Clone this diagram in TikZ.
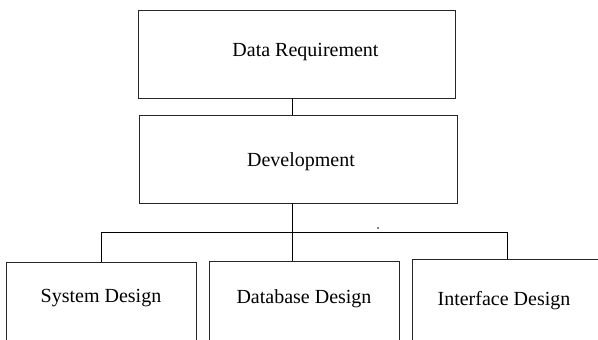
\documentclass[tikz,border=0pt]{standalone}
\usepackage{fontspec}
\setmainfont{Liberation Serif}
\usetikzlibrary{positioning}

\begin{document}
\begin{tikzpicture}[
    x=1pt, y=-1pt,
    box/.style={draw=black!85, line width=0.9pt, fill=white, inner sep=0pt},
    tag/.style={font=\fontsize{20}{24}\selectfont, inner sep=0pt, anchor=center},
    wire/.style={draw=black, line width=0.9pt}
]
\useasboundingbox (0,0) rectangle (598,340);
\clip (0,0) rectangle (598,340);

% ==================== TOP CHAIN ====================
\node[box, minimum width=317pt, minimum height=88pt,
      label={[tag, xshift=9pt, yshift=2pt]center:Data Requirement}] (dreq) at (296.5,54) {};
\node[box, minimum width=318pt, minimum height=88pt,
      label={[tag, xshift=3pt, yshift=-3pt]center:Development}] (dev) at (298,159) {};

% ==================== DESIGN BOXES ====================
\node[box, minimum width=190pt, minimum height=120pt,
      label={[tag, yshift=-36pt]north:System Design}] (sys) at (101,322) {};
\node[box, minimum width=190pt, minimum height=120pt,
      label={[tag, yshift=-38pt]north:Database Design}] (dbase) at (304,321) {};
\node[box, minimum width=190pt, minimum height=120pt,
      label={[tag, xshift=-3pt, yshift=-42pt]north:Interface Design}] (intf) at (507,319) {};

% connectors
\coordinate (split) at (292,232);
\draw[wire] (dreq.south -| split) -- (dev.north -| split);
\draw[wire] (dev.south -| split) -- (split);
\draw[wire] (split) -| (sys.north);
\draw[wire] (split) -| (intf.north);
\draw[wire] (split) -- (split |- dbase.north);

\fill (378,228) circle (0.8pt);
\end{tikzpicture}
\end{document}
